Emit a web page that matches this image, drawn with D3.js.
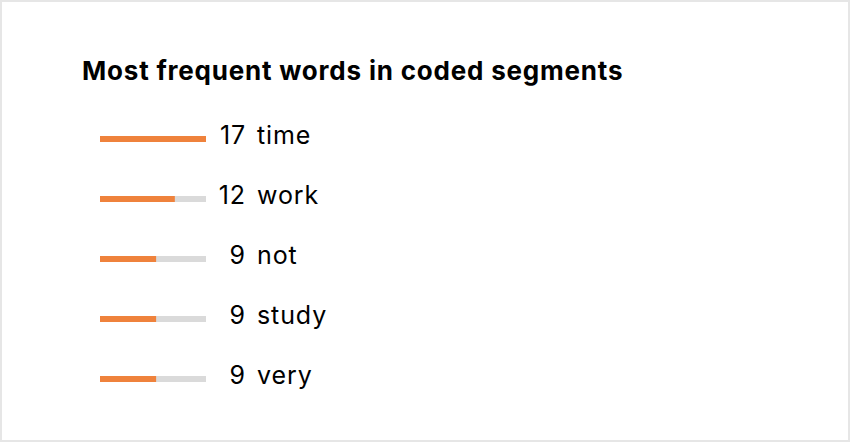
<!DOCTYPE html>
<html>
<head>
<meta charset="utf-8">
<script src="https://cdn.jsdelivr.net/npm/d3@7"></script>
<style>
  html, body { margin: 0; padding: 0; background: #ffffff; }
  svg { display: block; }
</style>
</head>
<body>
<svg id="chart" width="850" height="442"></svg>
<script>
const title = "Most frequent words in coded segments";
const words = ["time", "work", "not", "study", "very"];
const counts = [17, 12, 9, 9, 9];

const W = 850, H = 442;
const svg = d3.select("#chart");

svg.append("rect")
  .attr("x", 1).attr("y", 1).attr("width", W - 2).attr("height", H - 2)
  .attr("fill", "#ffffff").attr("stroke", "#e6e6e6").attr("stroke-width", 2);

const font = "Inter, 'Noto Sans', 'Liberation Sans', sans-serif";

svg.append("text")
  .attr("x", 82).attr("y", 80)
  .attr("font-family", font).attr("font-weight", 700).attr("font-size", 26)
  .attr("letter-spacing", 0.8)
  .attr("fill", "#000000")
  .text(title);

const x = d3.scaleLinear().domain([0, d3.max(counts)]).range([0, 106]);
const y = d3.scaleBand().domain(words).range([109, 409]).paddingInner(0);

const rows = svg.selectAll("g.row").data(words.map((w, i) => ({ w, c: counts[i] })))
  .enter().append("g").attr("class", "row")
  .attr("transform", d => `translate(0,${y(d.w) + y.bandwidth() / 2})`);

rows.append("rect")
  .attr("x", 100).attr("y", -3).attr("height", 6)
  .attr("width", x(d3.max(counts)))
  .attr("fill", "#dadada");

rows.append("rect")
  .attr("x", 100).attr("y", -3).attr("height", 6)
  .attr("width", d => x(d.c))
  .attr("fill", "#ef823c");

rows.append("text")
  .attr("x", 246).attr("y", 5)
  .attr("text-anchor", "end")
  .attr("font-family", font).attr("font-size", 25)
  .attr("letter-spacing", 0.9)
  .attr("fill", "#000000")
  .text(d => d.c);

rows.append("text")
  .attr("x", 257).attr("y", 5)
  .attr("font-family", font).attr("font-size", 25)
  .attr("letter-spacing", 0.9)
  .attr("fill", "#000000")
  .text(d => d.w);
</script>
</body>
</html>
